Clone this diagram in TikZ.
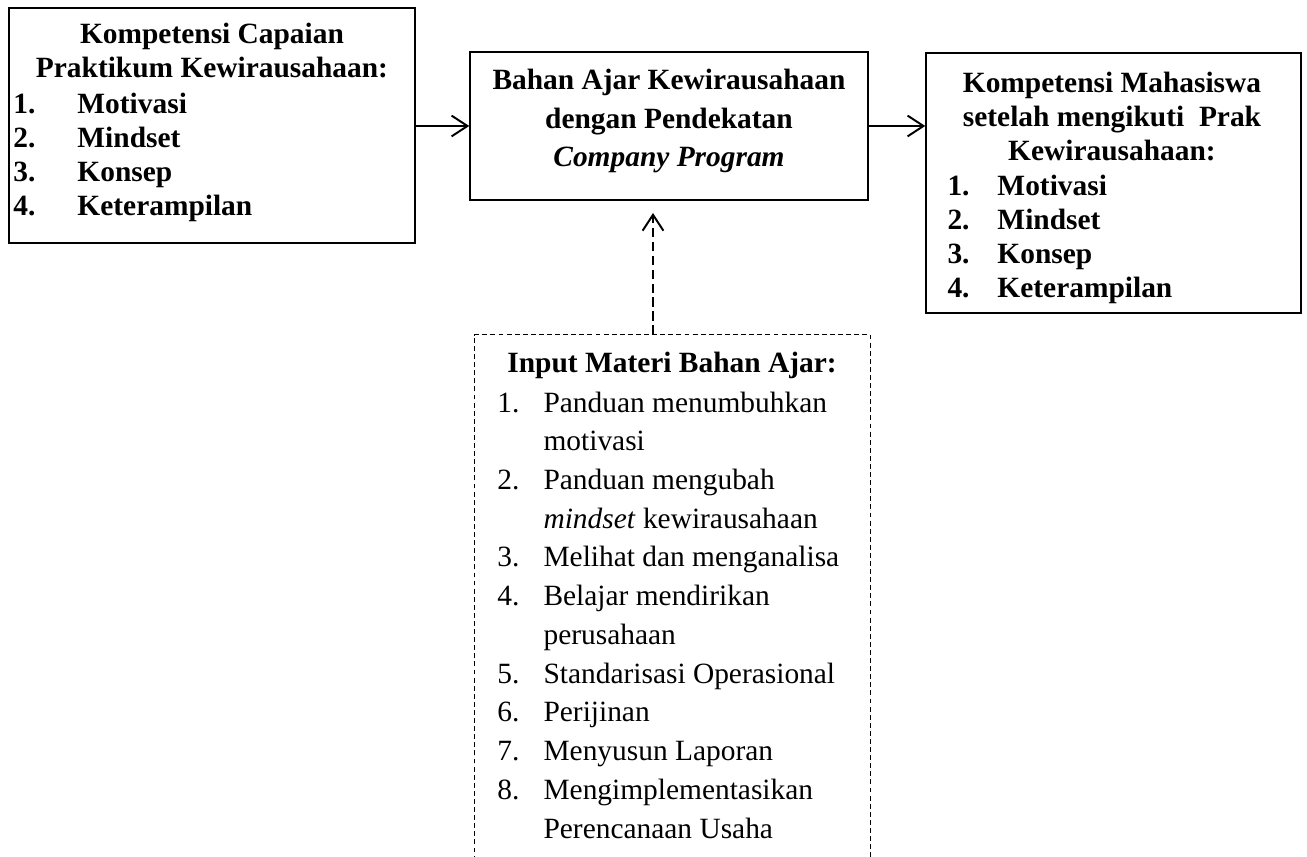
\documentclass[tikz,border=0pt]{standalone}
\usepackage{fontspec}
\setmainfont{Liberation Serif}
\usetikzlibrary{arrows.meta,fit}

% number + item with a fixed tab
\newcommand{\butir}[3]{\makebox[#1][l]{#2}#3}

\tikzset{
  kotak/.style={draw, line width=0.6pt, inner sep=0pt},
  judul/.style={font=\fontsize{12}{14}\selectfont\bfseries, align=center, anchor=base, inner sep=0pt},
  daftar/.style={font=\fontsize{12}{14}\selectfont\bfseries, align=left, anchor=base west, inner sep=0pt},
  panah/.style={-{Straight Barb[length=6.5pt,width=8.5pt]}, line width=0.8pt},
  panahputus/.style={panah, dash pattern=on 3.7pt off 2pt},
  garisputus/.style={line width=0.4pt, dash pattern=on 2pt off 1.3pt}
}

\begin{document}
\begin{tikzpicture}[x=0.408pt, y=-0.408pt]
  \useasboundingbox (0,0) rectangle (1307,857);

  % boxes
  \node[kotak, fit={(9,8) (415,243)}] (kap) {};
  \node[kotak, fit={(470,52) (868,200)}] (bahan) {};
  \node[kotak, fit={(926,53) (1301,313)}] (komp) {};
  \node[inner sep=0pt, fit={(475,335) (870,860)}] (input) {};
  \draw[garisputus] (input.south west) -- (input.north west) -- (input.north east) -- (input.south east);

  % left box (anchor = baseline of last line)
  \node[judul] (kapJudul) at (212,78) {Kompetensi Capaian\\Praktikum Kewirausahaan:};
  \node[daftar] (kapDaftar) at (13,216) {\butir{26.1pt}{1.}{Motivasi}\\\butir{26.1pt}{2.}{Mindset}\\
    \butir{26.1pt}{3.}{Konsep}\\\butir{26.1pt}{4.}{Keterampilan}};

  % middle box
  \node[judul, font=\fontsize{12}{15.9}\selectfont\bfseries] (bahanJudul) at (669,167)
    {Bahan Ajar Kewirausahaan\\dengan Pendekatan\\\textit{Company Program}};

  % right box
  \node[judul] (kompJudul) at (1112,161) {Kompetensi Mahasiswa\\setelah mengikuti~~Prak\\Kewirausahaan:};
  \node[daftar] (kompDaftar) at (947,298) {\butir{20.4pt}{1.}{Motivasi}\\\butir{20.4pt}{2.}{Mindset}\\
    \butir{20.4pt}{3.}{Konsep}\\\butir{20.4pt}{4.}{Keterampilan}};

  % input box
  \node[judul, font=\fontsize{12}{15.8}\selectfont\bfseries] (inputJudul) at (672,373) {Input Materi Bahan Ajar:};
  \node[daftar, font=\fontsize{12}{15.8}\selectfont] (inputDaftar) at (497,838) {%
    \butir{18.8pt}{1.}{Panduan menumbuhkan}\\\butir{18.8pt}{}{motivasi}\\
    \butir{18.8pt}{2.}{Panduan mengubah}\\\butir{18.8pt}{}{\textit{mindset} kewirausahaan}\\
    \butir{18.8pt}{3.}{Melihat dan menganalisa}\\
    \butir{18.8pt}{4.}{Belajar mendirikan}\\\butir{18.8pt}{}{perusahaan}\\
    \butir{18.8pt}{5.}{Standarisasi Operasional}\\
    \butir{18.8pt}{6.}{Perijinan}\\
    \butir{18.8pt}{7.}{Menyusun Laporan}\\
    \butir{18.8pt}{8.}{Mengimplementasikan}\\\butir{18.8pt}{}{Perencanaan Usaha}};

  % connectors
  \coordinate (ujung) at (653,213);
  \draw[panah] (kap.east |- bahan.west) -- (bahan.west);
  \draw[panah] (bahan.east) -- (bahan.east -| komp.west);
  \draw[panahputus] (ujung |- input.north) -- (ujung);
\end{tikzpicture}
\end{document}
